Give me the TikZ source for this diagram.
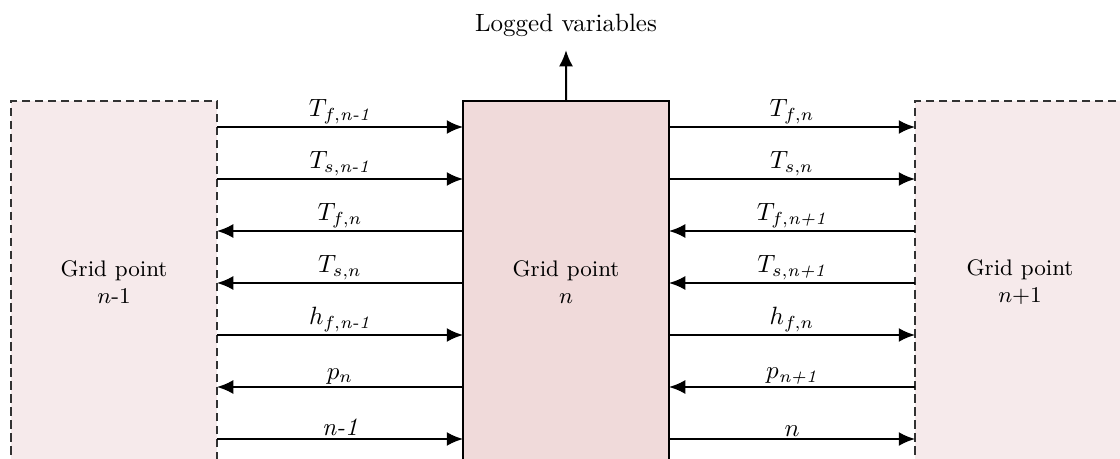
\documentclass[tikz,border=0pt]{standalone}
\usepackage{amsmath}
\usetikzlibrary{arrows.meta}
\definecolor{sidefill}{RGB}{246,234,235}
\definecolor{midfill}{RGB}{240,218,218}
\definecolor{dashgray}{RGB}{50,50,50}
\begin{document}
\begin{tikzpicture}[x=0.4pt,y=-0.4pt,
  gridbox/.style={anchor=north west,minimum width=82.4pt,minimum height=160pt,
    inner sep=0pt,outer sep=0pt},
  nbrbox/.style={gridbox,fill=sidefill,draw=dashgray,line width=0.5pt,
    dash pattern=on 3.4pt off 1.8pt},
  gridtext/.style={align=center,font=\small},
  flow/.style={line width=0.8pt,-{Latex[length=6.5pt,width=5.6pt]}},
  backflow/.style={line width=0.8pt,{Latex[length=6.5pt,width=5.6pt]}-}]
  \clip (0,0) rectangle (1120,459);

  % Neighbouring grid points and the current one.
  \node[nbrbox] (gl) at (11,101) {};
  \node[nbrbox] (gr) at (915,101) {};
  \node[gridbox,fill=midfill,draw,line width=0.5pt] (gc) at (463,101) {};
  \node[gridtext] (gltext) at (114,282) {Grid point\\$n$-1};
  \node[gridtext] (gctext) at (566,282) {Grid point\\$n$};
  \node[gridtext] (grtext) at (1020,282) {Grid point\\$n$+1};

  % Output to the logger.
  \node (logged) at (566,25) {Logged variables};
  \draw[flow,shorten >=2pt] (gc.north) -- (logged.south);

  % Exchanged variables, left and right of grid point n.
  \foreach \y/\dir/\lab in {
      127/flow/{T_{f,\textit{n-1}}},
      179/flow/{T_{s,\textit{n-1}}},
      231/backflow/{T_{f,n}},
      283/backflow/{T_{s,n}},
      335/flow/{h_{f,\textit{n-1}}},
      387/backflow/{p_n},
      439/flow/{\textit{n-1}}} {
    \draw[\dir] (gl.east |- 0,\y) -- (gc.west |- 0,\y)
      node[midway,above,inner sep=0.8pt] {$\lab$};
  }
  \foreach \y/\dir/\lab in {
      127/flow/{T_{f,n}},
      179/flow/{T_{s,n}},
      231/backflow/{T_{f,\textit{n+1}}},
      283/backflow/{T_{s,\textit{n+1}}},
      335/flow/{h_{f,n}},
      387/backflow/{p_{\textit{n+1}}},
      439/flow/{n}} {
    \draw[\dir] (gc.east |- 0,\y) -- (gr.west |- 0,\y)
      node[midway,above,inner sep=0.8pt] {$\lab$};
  }
\end{tikzpicture}
\end{document}
